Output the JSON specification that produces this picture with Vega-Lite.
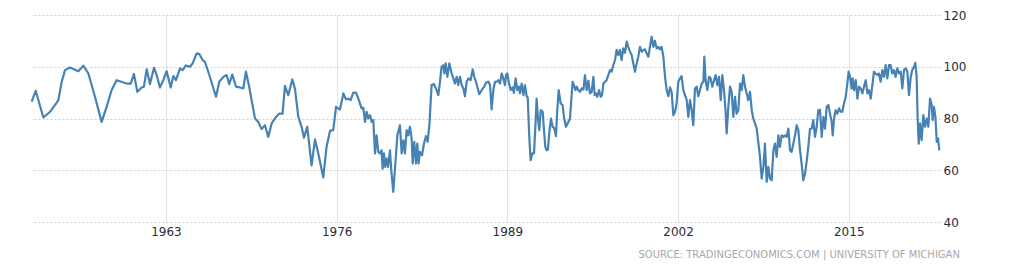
{
"$schema":"https://vega.github.io/schema/vega-lite/v6.json",
"autosize":{"type":"none"},
"width":909,"height":207,
"padding":{"left":31,"top":15,"right":84,"bottom":44},
"background":"white",
"config":{"view":{"stroke":null},"font":"DejaVu Sans"},
"title":{"text":"SOURCE: TRADINGECONOMICS.COM | UNIVERSITY OF MICHIGAN","orient":"bottom","anchor":"end","dx":-6,"offset":13,"fontSize":10,"fontWeight":"normal","color":"#a8a8a8","font":"DejaVu Sans"},
"data":{"values":[
{"year":1952.77,"value":86.5},{"year":1953.08,"value":90.7},{"year":1953.66,"value":80.4},{"year":1954.17,"value":82.6},{"year":1954.8,"value":87},{"year":1955.06,"value":94.2},{"year":1955.31,"value":98.7},{"year":1955.69,"value":99.7},{"year":1956.32,"value":98.3},{"year":1956.71,"value":100.4},{"year":1957.09,"value":97.4},{"year":1957.59,"value":88.4},{"year":1958.1,"value":78.7},{"year":1958.48,"value":84.5},{"year":1958.86,"value":91},{"year":1959.24,"value":94.8},{"year":1960.0,"value":93.5},{"year":1960.31,"value":93.5},{"year":1960.56,"value":97.2},{"year":1960.82,"value":90.3},{"year":1961.15,"value":92},{"year":1961.32,"value":92.3},{"year":1961.53,"value":99},{"year":1961.78,"value":93.3},{"year":1962.09,"value":99.6},{"year":1962.29,"value":96.8},{"year":1962.54,"value":92},{"year":1962.8,"value":94.8},{"year":1963.05,"value":98.3},{"year":1963.36,"value":92},{"year":1963.56,"value":96.4},{"year":1963.76,"value":94.8},{"year":1964.07,"value":99.4},{"year":1964.27,"value":98.7},{"year":1964.52,"value":100.5},{"year":1964.83,"value":100},{"year":1965.03,"value":101.3},{"year":1965.34,"value":105.2},{"year":1965.54,"value":104.9},{"year":1965.79,"value":102.6},{"year":1965.97,"value":101.9},{"year":1966.3,"value":96.8},{"year":1966.81,"value":88.4},{"year":1967.06,"value":94.2},{"year":1967.37,"value":96.1},{"year":1967.62,"value":96.8},{"year":1967.82,"value":93.3},{"year":1968.05,"value":97},{"year":1968.33,"value":92.3},{"year":1968.63,"value":92},{"year":1968.89,"value":91.6},{"year":1969.09,"value":98.1},{"year":1969.35,"value":92},{"year":1969.52,"value":87.1},{"year":1969.78,"value":80},{"year":1970.03,"value":78.7},{"year":1970.28,"value":75.9},{"year":1970.54,"value":77.4},{"year":1970.79,"value":72.9},{"year":1971.05,"value":78.1},{"year":1971.38,"value":80.6},{"year":1971.63,"value":81.9},{"year":1971.88,"value":81.9},{"year":1972.06,"value":92.6},{"year":1972.31,"value":89},{"year":1972.62,"value":95.1},{"year":1972.82,"value":91.6},{"year":1973.08,"value":80.6},{"year":1973.33,"value":76.8},{"year":1973.51,"value":72.6},{"year":1973.76,"value":76.8},{"year":1974.09,"value":61.9},{"year":1974.35,"value":71.9},{"year":1974.6,"value":66.5},{"year":1974.98,"value":57.2},{"year":1975.23,"value":69},{"year":1975.49,"value":75.2},{"year":1975.74,"value":75.5},
{"year":1975.95,"value":84.5},{"year":1976.12,"value":83.9},{"year":1976.25,"value":83.5},{"year":1976.51,"value":89.7},{"year":1976.71,"value":87.4},{"year":1976.89,"value":87.7},{"year":1977.06,"value":87.1},{"year":1977.27,"value":90},{"year":1977.47,"value":90},{"year":1977.65,"value":87.7},{"year":1977.9,"value":83.9},{"year":1978.03,"value":84.2},{"year":1978.16,"value":78.7},{"year":1978.28,"value":82.6},{"year":1978.41,"value":80},{"year":1978.54,"value":81.3},{"year":1978.66,"value":78.7},{"year":1978.79,"value":79.4},{"year":1978.92,"value":66.5},{"year":1979.04,"value":73.5},{"year":1979.17,"value":67.1},{"year":1979.3,"value":66.5},{"year":1979.42,"value":67.7},{"year":1979.5,"value":60.6},{"year":1979.6,"value":66.5},{"year":1979.7,"value":61.3},{"year":1979.81,"value":64.5},{"year":1979.91,"value":61.3},{"year":1980.06,"value":67.7},{"year":1980.16,"value":60},{"year":1980.31,"value":51.6},{"year":1980.47,"value":62.6},{"year":1980.62,"value":73.5},{"year":1980.82,"value":77.4},{"year":1980.95,"value":66.5},{"year":1981.08,"value":71.6},{"year":1981.2,"value":66.5},{"year":1981.33,"value":75.5},{"year":1981.46,"value":73.5},{"year":1981.58,"value":76.8},{"year":1981.71,"value":72.3},{"year":1981.79,"value":62.6},{"year":1981.91,"value":71},{"year":1982.04,"value":62.6},{"year":1982.14,"value":70.3},{"year":1982.24,"value":62.6},{"year":1982.34,"value":67.1},{"year":1982.5,"value":65.8},{"year":1982.65,"value":70.3},{"year":1982.8,"value":73.2},{"year":1982.93,"value":71},{"year":1983.06,"value":77.4},{"year":1983.23,"value":92.9},{"year":1983.41,"value":93.3},{"year":1983.56,"value":91.6},{"year":1983.74,"value":89},{"year":1983.87,"value":94.2},{"year":1983.99,"value":100},{"year":1984.12,"value":100.6},{"year":1984.2,"value":97.4},{"year":1984.3,"value":101.3},{"year":1984.43,"value":96.1},{"year":1984.58,"value":101.3},
{"year":1984.76,"value":97.4},{"year":1984.88,"value":95.5},{"year":1985.01,"value":93.5},{"year":1985.14,"value":96.1},{"year":1985.26,"value":92.9},{"year":1985.39,"value":96.1},{"year":1985.52,"value":92.9},{"year":1985.65,"value":91.6},{"year":1985.77,"value":88.6},{"year":1985.9,"value":94.2},{"year":1986.03,"value":95.5},{"year":1986.2,"value":94.8},{"year":1986.36,"value":99},{"year":1986.48,"value":96.1},{"year":1986.61,"value":94.2},{"year":1986.71,"value":92.3},{"year":1986.86,"value":89.4},{"year":1986.97,"value":90.3},{"year":1987.12,"value":91.6},{"year":1987.24,"value":92.3},{"year":1987.37,"value":93.8},{"year":1987.55,"value":94.2},{"year":1987.68,"value":92.9},{"year":1987.8,"value":83.5},{"year":1987.93,"value":91},{"year":1988.06,"value":94.2},{"year":1988.18,"value":94.2},{"year":1988.31,"value":94.8},{"year":1988.44,"value":93.5},{"year":1988.57,"value":97.4},{"year":1988.69,"value":95.5},{"year":1988.82,"value":92.9},{"year":1988.9,"value":96.8},{"year":1989.0,"value":97.4},{"year":1989.1,"value":94.2},{"year":1989.25,"value":91},{"year":1989.4,"value":92},{"year":1989.5,"value":89.9},{"year":1989.63,"value":95.5},{"year":1989.76,"value":91},{"year":1989.89,"value":92.3},{"year":1989.96,"value":89.7},{"year":1990.09,"value":93.5},{"year":1990.22,"value":89},{"year":1990.34,"value":92.9},{"year":1990.47,"value":88.6},{"year":1990.55,"value":88.1},{"year":1990.67,"value":72.9},{"year":1990.77,"value":63.9},{"year":1990.9,"value":66.5},{"year":1991.03,"value":66.5},{"year":1991.15,"value":78.7},{"year":1991.23,"value":87.7},{"year":1991.33,"value":80},{"year":1991.43,"value":75.5},{"year":1991.54,"value":83.2},{"year":1991.69,"value":82.6},{"year":1991.79,"value":75.5},{"year":1991.89,"value":69},{"year":1991.99,"value":67.7},{"year":1992.09,"value":68},{"year":1992.2,"value":74.8},{"year":1992.32,"value":80},{"year":1992.45,"value":76.8},{"year":1992.58,"value":76.1},{"year":1992.7,"value":73.2},{"year":1992.8,"value":83.2},{"year":1992.91,"value":91},{"year":1993.06,"value":85.8},{"year":1993.21,"value":85.2},{"year":1993.31,"value":80.6},{"year":1993.46,"value":76.8},{"year":1993.59,"value":78.1},
{"year":1993.77,"value":80},{"year":1993.97,"value":94.2},{"year":1994.07,"value":92.9},{"year":1994.18,"value":91},{"year":1994.28,"value":92.3},{"year":1994.4,"value":91},{"year":1994.53,"value":90.3},{"year":1994.66,"value":91.6},{"year":1994.79,"value":91.2},{"year":1994.91,"value":96.8},{"year":1995.04,"value":91},{"year":1995.17,"value":94.6},{"year":1995.29,"value":89.7},{"year":1995.42,"value":90.3},{"year":1995.55,"value":96.1},{"year":1995.65,"value":89},{"year":1995.75,"value":89.7},{"year":1995.85,"value":88.4},{"year":1995.98,"value":91},{"year":1996.11,"value":88.4},{"year":1996.21,"value":89},{"year":1996.31,"value":93.5},{"year":1996.44,"value":94.2},{"year":1996.56,"value":94.8},{"year":1996.69,"value":96.8},{"year":1996.82,"value":98.7},{"year":1996.94,"value":98.1},{"year":1997.07,"value":100.6},{"year":1997.2,"value":102.6},{"year":1997.32,"value":106.5},{"year":1997.45,"value":104.5},{"year":1997.58,"value":106.5},{"year":1997.7,"value":102.6},{"year":1997.83,"value":107.1},{"year":1997.96,"value":105.4},{"year":1998.09,"value":109.7},{"year":1998.21,"value":107.7},{"year":1998.34,"value":105.8},{"year":1998.47,"value":104.5},{"year":1998.59,"value":101.3},{"year":1998.72,"value":98.1},{"year":1998.85,"value":101.3},{"year":1998.97,"value":103.9},{"year":1999.1,"value":107.7},{"year":1999.23,"value":105.8},{"year":1999.36,"value":106.5},{"year":1999.48,"value":106.7},{"year":1999.61,"value":105.2},{"year":1999.74,"value":103.9},{"year":1999.86,"value":107.7},{"year":1999.99,"value":111.6},{"year":2000.12,"value":107.7},{"year":2000.24,"value":110},{"year":2000.37,"value":107.1},{"year":2000.5,"value":107.7},{"year":2000.62,"value":106.7},{"year":2000.75,"value":107.7},{"year":2000.88,"value":103.9},{"year":2001.01,"value":96.1},{"year":2001.13,"value":91},{"year":2001.26,"value":88.6},{"year":2001.39,"value":92},{"year":2001.51,"value":90.3},{"year":2001.64,"value":81.3},{"year":2001.77,"value":82.6},{"year":2001.89,"value":85.8},{"year":2002.02,"value":94.2},{"year":2002.15,"value":95.5},{"year":2002.27,"value":96.4},{"year":2002.4,"value":91},{"year":2002.53,"value":89},{"year":2002.66,"value":87.1},{"year":2002.78,"value":80.6},
{"year":2002.91,"value":87.1},{"year":2003.04,"value":83.2},{"year":2003.16,"value":77.4},{"year":2003.29,"value":91.6},{"year":2003.42,"value":92.3},{"year":2003.54,"value":88.6},{"year":2003.67,"value":91},{"year":2003.8,"value":93.5},{"year":2003.93,"value":94.2},{"year":2004.0,"value":103.9},{"year":2004.1,"value":94.8},{"year":2004.23,"value":91},{"year":2004.36,"value":96.1},{"year":2004.48,"value":95.5},{"year":2004.61,"value":92.3},{"year":2004.74,"value":94.8},{"year":2004.86,"value":96.8},{"year":2004.99,"value":92.9},{"year":2005.12,"value":96.1},{"year":2005.25,"value":87.1},{"year":2005.37,"value":96.8},{"year":2005.5,"value":91},{"year":2005.63,"value":81.9},{"year":2005.7,"value":74.2},{"year":2005.83,"value":84.5},{"year":2005.96,"value":92.3},{"year":2006.08,"value":90.3},{"year":2006.21,"value":80.6},{"year":2006.34,"value":88.4},{"year":2006.46,"value":81.9},{"year":2006.59,"value":83.2},{"year":2006.72,"value":93.5},{"year":2006.85,"value":91},{"year":2006.97,"value":96.8},{"year":2007.1,"value":92.3},{"year":2007.23,"value":89.7},{"year":2007.35,"value":87.1},{"year":2007.48,"value":90.3},{"year":2007.61,"value":83.2},{"year":2007.73,"value":80},{"year":2007.86,"value":78.1},{"year":2007.99,"value":76.1},{"year":2008.11,"value":71},{"year":2008.24,"value":65.2},{"year":2008.37,"value":56.8},{"year":2008.5,"value":61.3},{"year":2008.62,"value":70.3},{"year":2008.75,"value":55.5},{"year":2008.88,"value":61.3},{"year":2009.0,"value":56.8},{"year":2009.13,"value":56.1},{"year":2009.26,"value":67.7},{"year":2009.38,"value":70.3},{"year":2009.51,"value":65.2},{"year":2009.64,"value":73.5},{"year":2009.76,"value":69},{"year":2009.89,"value":73.5},{"year":2010.02,"value":72.9},{"year":2010.15,"value":73.5},{"year":2010.27,"value":72.9},{"year":2010.4,"value":76.1},{"year":2010.53,"value":67.7},{"year":2010.65,"value":67.1},{"year":2010.78,"value":70.3},{"year":2010.91,"value":73.5},{"year":2011.03,"value":77.4},{"year":2011.16,"value":75.5},{"year":2011.29,"value":67.7},{"year":2011.41,"value":62.6},{"year":2011.54,"value":56.1},{"year":2011.67,"value":58.7},{"year":2011.79,"value":63.2},{"year":2011.92,"value":69},
{"year":2012.05,"value":76},{"year":2012.18,"value":76.1},{"year":2012.3,"value":79.4},{"year":2012.43,"value":72.9},{"year":2012.56,"value":76.8},{"year":2012.68,"value":83.2},{"year":2012.81,"value":83.4},{"year":2012.94,"value":72.9},{"year":2013.07,"value":80.6},{"year":2013.19,"value":76.1},{"year":2013.32,"value":84.5},{"year":2013.45,"value":85.2},{"year":2013.57,"value":81.9},{"year":2013.7,"value":78.7},{"year":2013.78,"value":73.5},{"year":2013.88,"value":80},{"year":2014.0,"value":83.2},{"year":2014.13,"value":81.9},{"year":2014.26,"value":83.9},{"year":2014.39,"value":82.6},{"year":2014.51,"value":82.6},{"year":2014.64,"value":85.8},{"year":2014.77,"value":88.4},{"year":2014.89,"value":93.5},{"year":2014.99,"value":98.1},{"year":2015.1,"value":96.1},{"year":2015.22,"value":91.6},{"year":2015.3,"value":95.5},{"year":2015.4,"value":91},{"year":2015.53,"value":94.8},{"year":2015.66,"value":87.7},{"year":2015.78,"value":92.3},{"year":2015.91,"value":91.6},{"year":2016.04,"value":89.7},{"year":2016.16,"value":92.3},{"year":2016.29,"value":94.8},{"year":2016.42,"value":89.7},{"year":2016.54,"value":91},{"year":2016.67,"value":87.7},{"year":2016.8,"value":92.9},{"year":2016.92,"value":98.1},{"year":2017.05,"value":97.4},{"year":2017.18,"value":96.8},{"year":2017.3,"value":97.4},{"year":2017.43,"value":94.2},{"year":2017.56,"value":98.7},{"year":2017.69,"value":96.1},{"year":2017.81,"value":100.6},{"year":2017.94,"value":95.5},{"year":2018.07,"value":100.6},{"year":2018.19,"value":100.6},{"year":2018.32,"value":97.4},{"year":2018.45,"value":98.7},{"year":2018.57,"value":96.1},{"year":2018.7,"value":99.4},{"year":2018.83,"value":97.4},{"year":2018.96,"value":98.1},{"year":2019.08,"value":91.6},{"year":2019.21,"value":98.7},{"year":2019.34,"value":99.4},{"year":2019.46,"value":98.1},{"year":2019.59,"value":89},{"year":2019.72,"value":96.1},{"year":2019.84,"value":98.7},{"year":2019.97,"value":100},{"year":2020.07,"value":101.5},{"year":2020.17,"value":96.1},{"year":2020.25,"value":79.4},{"year":2020.33,"value":70.3},{"year":2020.43,"value":78.1},{"year":2020.55,"value":71.6},{"year":2020.68,"value":81.3},{"year":2020.81,"value":76.8},{"year":2020.94,"value":80},{"year":2021.06,"value":76.8},{"year":2021.19,"value":87.7},{"year":2021.32,"value":85.2},{"year":2021.39,"value":79.4},{"year":2021.49,"value":84.5},{"year":2021.6,"value":80.6},{"year":2021.7,"value":71},{"year":2021.8,"value":72.3},{"year":2021.9,"value":67.7}
]},
"mark":{"type":"line","color":"#4682b4","strokeWidth":2.2,"interpolate":"linear","strokeJoin":"round"},
"encoding":{
"x":{"field":"year","type":"quantitative","title":null,
"scale":{"domain":[1952.72,2021.95],"nice":false,"zero":false},
"axis":{"values":[1963,1976,1989,2002,2015],"format":"d","grid":true,"gridColor":"#e3e3e3","gridWidth":1,"domain":false,"ticks":false,"labelPadding":4,"labelFontSize":12,"labelColor":"#2b2b3b","labelFont":"DejaVu Sans"}},
"y":{"field":"value","type":"quantitative","title":null,
"scale":{"domain":[40,120],"nice":false,"zero":false},
"axis":{"orient":"right","values":[40,60,80,100,120],"grid":true,"gridColor":"#cfcfcf","gridDash":[2,2],"gridWidth":1,"domain":false,"ticks":false,"labelPadding":3,"labelFontSize":12,"labelColor":"#2b2b3b","labelFont":"DejaVu Sans"}}
}
}
